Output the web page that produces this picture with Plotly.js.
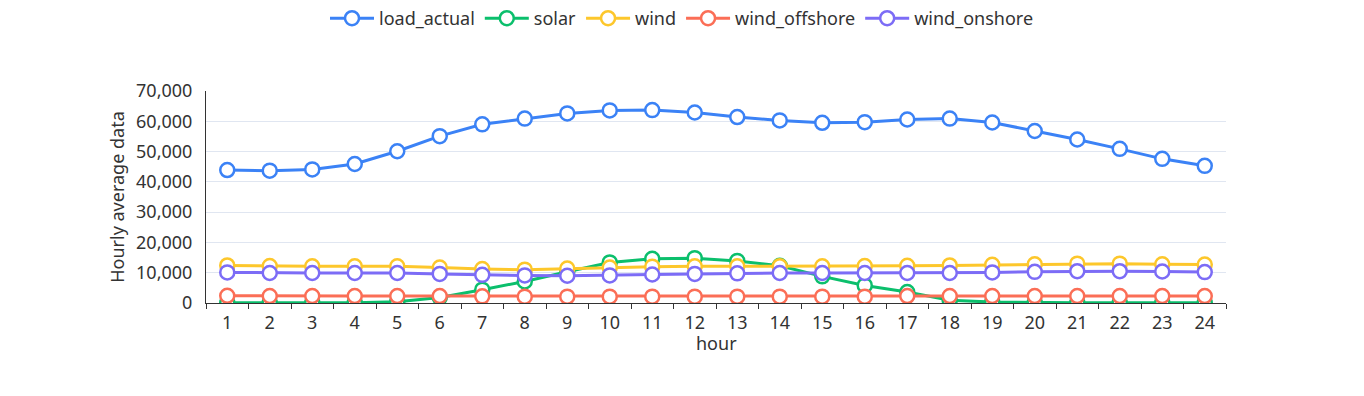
<!DOCTYPE html>
<html>
<head>
<meta charset="utf-8">
<script src="https://cdn.plot.ly/plotly-3.0.1.min.js"></script>
<style>html,body{margin:0;padding:0;background:#fff;}#chart{width:1364px;height:396px;}</style>
</head>
<body>
<div id="chart"></div>
<script>
const hours = ["1","2","3","4","5","6","7","8","9","10","11","12","13","14","15","16","17","18","19","20","21","22","23","24"];
const load_actual = [43900,43700,44100,45900,50100,55100,59000,60900,62600,63600,63700,62900,61400,60300,59500,59700,60600,60900,59600,56800,54000,50900,47600,45300];
const solar = [50,50,60,80,400,1800,4400,7100,10300,13400,14600,14800,13900,12300,8800,5800,3600,900,300,80,50,50,50,50];
const wind = [12400,12200,12100,12100,12100,11700,11200,11000,11400,11700,12000,12100,12100,12100,12100,12200,12300,12400,12600,12800,13000,13000,12800,12700];
const wind_offshore = [2400,2300,2300,2300,2300,2300,2200,2100,2100,2100,2100,2100,2100,2100,2100,2100,2300,2300,2300,2300,2300,2300,2300,2300];
const wind_onshore = [10100,9900,9900,9900,9900,9600,9300,9100,9000,9100,9400,9600,9800,9900,9900,9900,9900,9900,10100,10300,10500,10500,10400,10200];

const seriesNames = ["load_actual","solar","wind","wind_offshore","wind_onshore"];
const seriesData = [load_actual, solar, wind, wind_offshore, wind_onshore];
const colors = ["#3b82f6","#0bbf6c","#fdc72b","#fb6e56","#7c6cf6"];

const traces = seriesNames.map((n,i)=>({
  type:'scatter', mode:'lines+markers', name:n, x:hours, y:seriesData[i],
  line:{color:colors[i], width:3},
  marker:{symbol:'circle', size:14, color:'#ffffff', line:{color:colors[i], width:2.5}},
  hoverinfo:'x+y+name'
}));

const font = "Noto Sans, Open Sans, sans-serif";
const fs = 18;
const layout = {
  width:1364, height:396,
  margin:{l:206, r:138, t:91, b:93},
  paper_bgcolor:'#fff', plot_bgcolor:'#fff',
  font:{family:font, size:fs, color:'#333'},
  showlegend:true,
  legend:{orientation:'h', x:0.5, xanchor:'center', xref:'container', y:1.0, yanchor:'top', yref:'container',
          font:{size:fs, color:'#333'}, tracegroupgap:0, itemwidth:44},
  xaxis:{type:'category', range:[-0.5,23.5], tickson:'boundaries', ticks:'outside', ticklen:5, tickcolor:'#333',
         showline:true, linecolor:'#333', linewidth:1, showgrid:false, zeroline:false,
         tickfont:{size:fs, color:'#333'}, ticklabelstandoff:3, automargin:false},
  yaxis:{range:[0,70000], dtick:10000, tickformat:',d', showline:true, linecolor:'#333', linewidth:1,
         showgrid:true, gridcolor:'#e0e6f1', zeroline:false, ticks:'',
         tickfont:{size:fs, color:'#333'}, ticklabelstandoff:9,
         title:{text:'Hourly average data', font:{size:fs, color:'#333'}, standoff:6}, automargin:false},
  annotations:[{text:'hour', xref:'paper', yref:'paper', x:0.5, y:0, xanchor:'center', yanchor:'middle',
                yshift:-40, showarrow:false, font:{size:fs, color:'#333'}}]
};
Plotly.newPlot('chart', traces, layout, {displayModeBar:false});
</script>
</body>
</html>
